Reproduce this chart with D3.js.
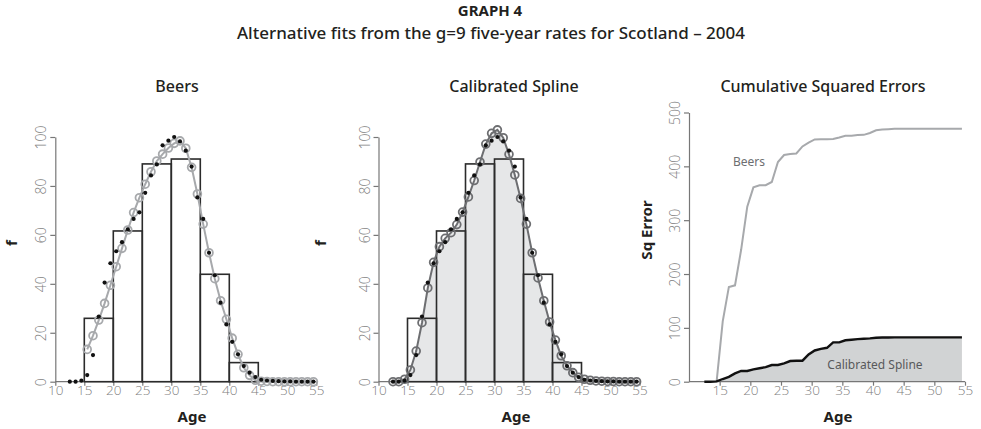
<!DOCTYPE html>
<html><head><meta charset="utf-8">
<script src="https://cdn.jsdelivr.net/npm/d3@7"></script>
<style>
body{margin:0;background:#fff;}
svg{display:block;font-family:"Noto Sans","Open Sans",sans-serif;}
.tick text{font-family:"Open Sans",sans-serif;font-weight:300;fill:#808080;}
</style></head><body>
<div id="chart"></div>
<script>
// ---------- data ----------
const ages = [12.5,13.5,14.5,15.5,16.5,17.5,18.5,19.5,20.5,21.5,22.5,23.5,24.5,25.5,26.5,27.5,28.5,29.5,30.5,31.5,32.5,33.5,34.5,35.5,36.5,37.5,38.5,39.5,40.5,41.5,42.5,43.5,44.5,45.5,46.5,47.5,48.5,49.5,50.5,51.5,52.5,53.5,54.5];
const observed = [0,0,0.4,2.7,10.9,26.6,40.5,48.4,53.3,57,62.3,66.5,69.2,77.2,84.3,88.8,96.6,98.5,100,98.2,94.4,87.9,75.3,66.5,52.7,43.5,32.3,23.4,16.3,11.2,6.4,3.7,1.9,0.8,0.5,0.3,0.2,0.1,0.1,0,0,0,0];
const beersAges = [15.5,16.5,17.5,18.5,19.5,20.5,21.5,22.5,23.5,24.5,25.5,26.5,27.5,28.5,29.5,30.5,31.5,32.5,33.5,34.5,35.5,36.5,37.5,38.5,39.5,40.5,41.5,42.5,43.5,44.5,45.5,46.5,47.5,48.5,49.5,50.5,51.5,52.5,53.5,54.5];
const beers = [13.2,18.8,25.2,32,39.4,47,54.5,62,69.1,75.2,80.7,85.8,90.2,93,95.5,97.4,98.4,95.4,87.6,76.7,64.4,52.7,42.1,33.1,25.5,17.8,11.2,5.7,2.6,0.6,0.2,0.1,0,0,0,0,0,0,0,0];
const spline = [0,0,1,4.8,12.5,24.1,38.3,48.8,55.2,58.6,60.9,64.2,69.3,75.5,82.2,89.8,97.1,101.5,102.9,99.7,92.9,84.5,74.9,64.4,52.7,42.4,33.1,24.4,17,10.6,6.5,3.7,1.8,1,0.6,0.3,0.2,0.1,0.1,0,0,0,0];
const groupStarts = [10,15,20,25,30,35,40,45,50];
const groupRates = [0,25.9,61.6,89,91,43.9,7.8,0,0];
const cumBeersAges = [14.5,15.5,16.5,17.5,18.5,19.5,20.5,21.5,22.5,23.5,24.5,25.5,26.5,27.5,28.5,29.5,30.5,31.5,32.5,33.5,34.5,35.5,36.5,37.5,38.5,39.5,40.5,41.5,42.5,43.5,44.5,45.5,46.5,47.5,48.5,49.5,50.5,51.5,52.5,53.5,54.5];
const cumBeers = [0,112,176,179,245,325,361,365,365,371,408,421,423,424,437,444,450,450.5,450.5,451,453.6,456.7,456.7,458,458.5,462,467,468.4,469,469.6,470,470,470,470,470,470,470,470,470,470,470];
const cumSpline = [0,0,0.5,5,9,15.5,20,20,23,25,27,31,31,34,38.4,39,39,50.7,58,61,63,73,73,77,78,79,79.7,80.4,81.7,82,82.2,82.3,82.3,82.3,82.3,82.3,82.3,82.3,82.3,82.3,82.3,82.3,82.3];
const xTicksFull = [10,15,20,25,30,35,40,45,50,55];
const xTicksCum = [15,20,25,30,35,40,45,50,55];
const fTicks = [0,20,40,60,80,100];
const errTicks = [0,100,200,300,400,500];

const W = 981, H = 429;
const svg = d3.select("#chart").append("svg").attr("width", W).attr("height", H);

// titles
svg.append("text").attr("x", 490).attr("y", 15.5).attr("text-anchor","middle")
  .attr("font-size", 15).attr("font-weight", 700).attr("fill","#231f20").text("GRAPH 4");
svg.append("text").attr("x", 491).attr("y", 39).attr("text-anchor","middle")
  .attr("font-size", 17).attr("font-weight", 500).attr("fill","#231f20")
  .text("Alternative fits from the g=9 five-year rates for Scotland – 2004");

const axisCol = "#777";
function styleAxis(g){
  g.select(".domain").attr("stroke", axisCol).attr("stroke-width", 1.2);
  g.selectAll(".tick line").attr("stroke", axisCol).attr("stroke-width", 1.2);
}
function yAxisDraw(g, y, ticks, x0){
  const ax = g.append("g").attr("transform", `translate(${x0},0)`)
    .call(d3.axisLeft(y).tickValues(ticks).tickSize(5).tickSizeOuter(0));
  styleAxis(ax);
  ax.selectAll(".tick text").attr("transform","rotate(-90)").attr("x",0).attr("y",-9)
    .attr("dy",0).attr("text-anchor","middle").attr("font-size",14);
}
function xAxisDraw(g, x, ticks, y0, domainFrom){
  const ax = g.append("g").attr("transform", `translate(0,${y0})`)
    .call(d3.axisBottom(x).tickValues(ticks).tickSize(4).tickSizeOuter(0));
  styleAxis(ax);
  ax.select(".domain").attr("d", `M${x(domainFrom)},0H${x(55)}`);
  ax.selectAll(".tick text").attr("y", 4).attr("dy","0.71em").attr("font-size",13.5);
}
function labels(title, tx, ageX, ylab, ylx, yly){
  svg.append("text").attr("x", tx).attr("y", 91.5).attr("text-anchor","middle")
    .attr("font-size", 16).attr("font-weight", 500).attr("fill","#231f20").text(title);
  svg.append("text").attr("x", ageX).attr("y", 422).attr("text-anchor","middle")
    .attr("font-size", 15).attr("font-weight", 700).attr("fill","#231f20").text("Age");
  svg.append("text").attr("transform", `translate(${ylx},${yly}) rotate(-90)`).attr("text-anchor","middle")
    .attr("font-size", 15).attr("font-weight", 700).attr("fill","#231f20").text(ylab);
}

function fitPanel(x0, x1, fitAges, fitVals, fitCol, fillCol){
  const g = svg.append("g");
  const x = d3.scaleLinear().domain([10,55]).range([x0, x1]);
  const y = d3.scaleLinear().domain([0,100]).range([381.7, 137]);
  if (fillCol){
    g.append("path").datum(fitAges.map((a,i)=>[a,fitVals[i]]))
      .attr("d", d3.area().x(d=>x(d[0])).y0(y(0)).y1(d=>y(d[1])))
      .attr("fill", fillCol);
  }
  xAxisDraw(g, x, xTicksFull, y(0), 10);
  yAxisDraw(g, y, fTicks, x(10));
  g.selectAll("rect.bar").data(groupStarts).join("rect").attr("class","bar")
    .attr("x", d=>x(d)).attr("width", x(15)-x(10))
    .attr("y", (d,i)=>y(groupRates[i])).attr("height",(d,i)=>y(0)-y(groupRates[i]))
    .attr("fill","none").attr("stroke", (d,i)=>groupRates[i]>0 || d<15 ? "#2b2b2b" : "none").attr("stroke-width",1.6);
  g.append("path").datum(fitAges.map((a,i)=>[a,fitVals[i]]))
    .attr("d", d3.line().x(d=>x(d[0])).y(d=>y(d[1])))
    .attr("fill","none").attr("stroke", fitCol).attr("stroke-width", 2);
  g.selectAll("circle.fit").data(fitAges).join("circle").attr("class","fit")
    .attr("cx", d=>x(d)).attr("cy",(d,i)=>y(fitVals[i])).attr("r",3.9)
    .attr("fill","none").attr("stroke", fitCol).attr("stroke-width",1.8);
  g.selectAll("circle.obs").data(ages).join("circle").attr("class","obs")
    .attr("cx", d=>x(d)).attr("cy",(d,i)=>y(observed[i])).attr("r",2.1)
    .attr("fill","#111");
}

// Panel 1: Beers
fitPanel(55.3, 316.3, beersAges, beers, "#a7a9ac", null);
labels("Beers", 177, 192, "f", 17, 243);
// Panel 2: Calibrated spline
fitPanel(378.5, 639.5, ages, spline, "#6d6e71", "#e6e7e8");
labels("Calibrated Spline", 514, 516, "f", 326, 243);

// Panel 3: Cumulative squared errors
{
  const g = svg.append("g");
  const x = d3.scaleLinear().domain([10,55]).range([689, 965]);
  const y = d3.scaleLinear().domain([0,500]).range([381.7, 112.5]);
  g.append("path").datum(ages.map((a,i)=>[a,cumSpline[i]]))
    .attr("d", d3.area().x(d=>x(d[0])).y0(y(0)).y1(d=>y(d[1])))
    .attr("fill","#d1d3d4");
  xAxisDraw(g, x, xTicksCum, y(0), 10);
  yAxisDraw(g, y, errTicks, x(10));
  g.append("path").datum(cumBeersAges.map((a,i)=>[a,cumBeers[i]]))
    .attr("d", d3.line().x(d=>x(d[0])).y(d=>y(d[1])))
    .attr("fill","none").attr("stroke","#a7a9ac").attr("stroke-width",2);
  g.append("path").datum(ages.map((a,i)=>[a,cumSpline[i]]))
    .attr("d", d3.line().x(d=>x(d[0])).y(d=>y(d[1])))
    .attr("fill","none").attr("stroke","#111").attr("stroke-width",2.4);
  g.append("text").attr("x", 749).attr("y", 166).attr("text-anchor","middle")
    .attr("font-size", 12).attr("fill","#6d6e71").text("Beers");
  g.append("text").attr("x", 875).attr("y", 369).attr("text-anchor","middle")
    .attr("font-size", 12).attr("fill","#58595b").text("Calibrated Spline");
  labels("Cumulative Squared Errors", 823, 838, "Sq Error", 652, 230);
}
</script></body></html>
